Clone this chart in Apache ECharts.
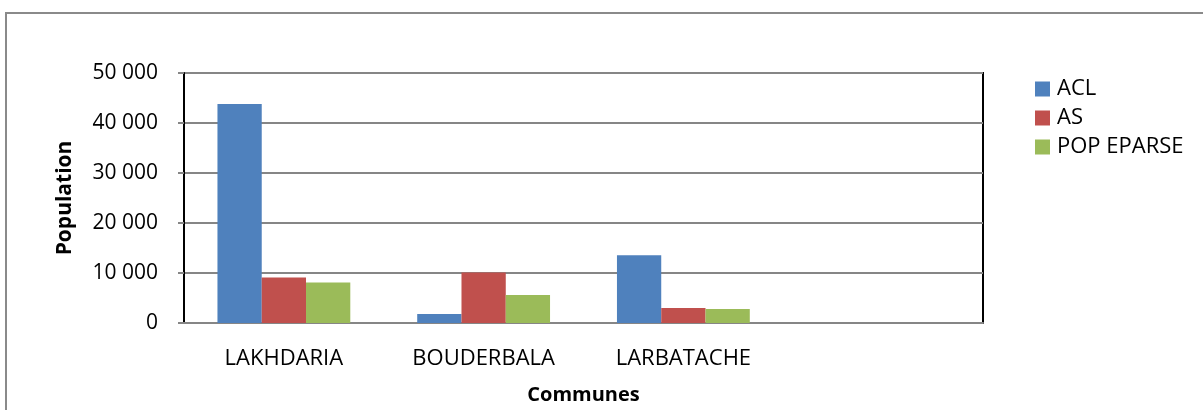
<!DOCTYPE html>
<html>
<head>
<meta charset="utf-8">
<script src="https://cdn.jsdelivr.net/npm/echarts@6/dist/echarts.min.js"></script>
<style>
  html, body { margin: 0; padding: 0; background: #fff; }
  #chart { width: 1203px; height: 410px; }
</style>
</head>
<body>
<div id="chart"></div>
<script>
// Population per commune, by settlement type
const communes = ['LAKHDARIA', 'BOUDERBALA', 'LARBATACHE', ''];
const acl = [43800, 1800, 13550, null];
const as = [9100, 10100, 3000, null];
const popEparse = [8100, 5600, 2800, null];
const seriesNames = ['ACL', 'AS', 'POP EPARSE'];
const colors = ['#4F81BD', '#C0504D', '#9BBB59'];

const FONT = '"Open Sans", sans-serif';

const chart = echarts.init(document.getElementById('chart'), null, { renderer: 'canvas' });

const barStyle = (c) => ({
  type: 'bar',
  barGap: '0%',
  barCategoryGap: '33.5%',
  itemStyle: { color: c },
  emphasis: { disabled: true }
});

chart.setOption({
  animation: false,
  backgroundColor: '#fff',
  color: colors,
  graphic: [{
    type: 'rect',
    shape: { x: 6, y: 13, width: 1220, height: 420 },
    style: { fill: 'none', stroke: '#8a8a8a', lineWidth: 2 },
    silent: true
  }],
  grid: {
    left: 184, right: 220, top: 73, bottom: 83,
    show: true, borderColor: '#000', borderWidth: 2, backgroundColor: 'transparent'
  },
  legend: {
    orient: 'vertical',
    left: 1030, top: 73,
    itemWidth: 15, itemHeight: 15, itemGap: 7,
    icon: 'rect',
    textStyle: { fontFamily: FONT, fontSize: 22, color: '#000', padding: [0, 0, 0, 2] },
    data: seriesNames
  },
  xAxis: {
    type: 'category',
    data: communes,
    name: 'Communes',
    nameLocation: 'middle',
    nameGap: 62,
    nameTextStyle: { fontFamily: FONT, fontSize: 20, fontWeight: 'bold', color: '#000' },
    axisLine: { lineStyle: { color: '#868686', width: 2 } },
    axisTick: { show: false },
    axisLabel: { fontFamily: FONT, fontSize: 22, color: '#000', margin: 25, interval: 0 }
  },
  yAxis: {
    type: 'value',
    min: 0, max: 50000, interval: 10000,
    name: 'Population',
    nameLocation: 'middle',
    nameGap: 108,
    nameTextStyle: { fontFamily: FONT, fontSize: 21, fontWeight: 'bold', color: '#000' },
    axisLine: { show: true, lineStyle: { color: '#000', width: 2 } },
    axisTick: { show: true, inside: false, length: 6, lineStyle: { color: '#868686', width: 2 } },
    axisLabel: {
      fontFamily: FONT, fontSize: 21, color: '#000', margin: 26,
      formatter: (v) => String(v).replace(/\B(?=(\d{3})+(?!\d))/g, ' ')
    },
    splitLine: { lineStyle: { color: '#868686', width: 2 } }
  },
  series: [
    Object.assign(barStyle(colors[0]), { name: seriesNames[0], data: acl }),
    Object.assign(barStyle(colors[1]), { name: seriesNames[1], data: as }),
    Object.assign(barStyle(colors[2]), { name: seriesNames[2], data: popEparse })
  ]
});
</script>
</body>
</html>
